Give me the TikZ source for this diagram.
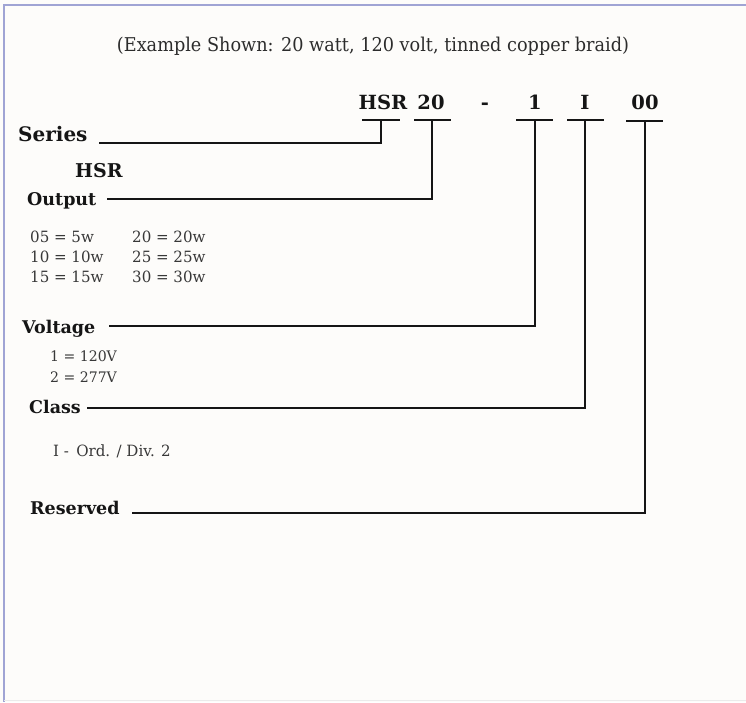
\documentclass[tikz,border=0pt]{standalone}
\usepackage{fontspec}
\setmainfont{DejaVu Serif}[FakeStretch=0.97]
\newfontfamily\titlefont{DejaVu Serif}[FakeStretch=0.93]
\newfontfamily\boldslab{DejaVu Serif}
\definecolor{bgc}{HTML}{FDFCFA}
\definecolor{framec}{HTML}{A0A4D4}
\definecolor{inkc}{HTML}{151515}
\tikzset{
  conn/.style={draw=inkc, line width=2pt, line cap=rect},
  barln/.style={draw=inkc, line width=2.4pt},
  codetxt/.style={inner sep=0pt, anchor=base, font=\boldslab\bfseries\fontsize{19.5}{22}\selectfont, text=inkc},
  lbl/.style={inner sep=0pt, anchor=base west, font=\boldslab\bfseries\fontsize{17.5}{20}\selectfont, text=inkc},
  item/.style={inner sep=0pt, anchor=base west, font=\fontsize{15.5}{18}\selectfont, text=inkc!85},
}
\begin{document}
\begin{tikzpicture}[x=1pt,y=-1pt]
\useasboundingbox (0,0) rectangle (746,702);
\fill[bgc] (0,0) rectangle (746,702);
\draw[framec, line width=2pt] (4,702) -- (4,5) -- (746,5);
\draw[black!8, line width=1pt] (4,700.5) -- (746,700.5);

\node[inner sep=0pt, anchor=base, font=\titlefont\fontsize{19}{22}\selectfont, text=inkc!90] (title) at (373,51) {(Example Shown: 20 watt, 120 volt, tinned copper braid)};

% code row
\node[codetxt] (cHSR) at (383,109) {HSR};
\node[codetxt] (c20) at (431,109) {20};
\node[codetxt] (cdash) at (485,109) {-};
\node[codetxt] (c1) at (535,109) {1};
\node[codetxt] (cI) at (585,109) {I};
\node[codetxt] (c00) at (645,109) {00};

% bars under code
\coordinate (bHSR) at (381,120);
\coordinate (b20) at (432,120);
\coordinate (b1) at (535,120);
\coordinate (bI) at (585,120);
\coordinate (b00) at (645,121);
\draw[barln] ([xshift=-19]bHSR) -- ([xshift=19]bHSR);
\draw[barln] ([xshift=-18]b20) -- ([xshift=19]b20);
\draw[barln] ([xshift=-19]b1) -- ([xshift=18]b1);
\draw[barln] ([xshift=-18]bI) -- ([xshift=19]bI);
\draw[barln] ([xshift=-19]b00) -- ([xshift=18]b00);

% labels
\node[lbl, font=\boldslab\bfseries\fontsize{20}{24}\selectfont] (series) at (18,141) {Series};
\node[lbl, font=\boldslab\bfseries\fontsize{19}{22}\selectfont] (hsr) at (75,177) {HSR};
\node[lbl] (output) at (27,205) {Output};
\node[lbl] (voltage) at (22,333) {Voltage};
\node[lbl] (class) at (29,413) {Class};
\node[lbl] (reserved) at (30,514) {Reserved};

% line start points
\coordinate (sSeries) at (100,143);
\coordinate (sOutput) at (108,199);
\coordinate (sVoltage) at (110,326);
\coordinate (sClass) at (88,408);
\coordinate (sReserved) at (133,513);

\draw[conn] (sSeries) -| (bHSR);
\draw[conn] (sOutput) -| (b20);
\draw[conn] (sVoltage) -| (b1);
\draw[conn] (sClass) -| (bI);
\draw[conn] (sReserved) -| (b00);

% output list
\node[item] (o05) at (30,242) {05 = 5w};
\node[item] (o10) at (30,262) {10 = 10w};
\node[item] (o15) at (30,282) {15 = 15w};
\node[item] (o20) at (132,242) {20 = 20w};
\node[item] (o25) at (132,262) {25 = 25w};
\node[item] (o30) at (132,282) {30 = 30w};

% voltage list
\node[item, font=\fontsize{14.5}{17}\selectfont] (v1) at (50,361) {1 = 120V};
\node[item, font=\fontsize{14.5}{17}\selectfont] (v2) at (50,382) {2 = 277V};

% class list
\node[item] (cl1) at (53,456) {I -\, Ord. / Div. 2};
\end{tikzpicture}
\end{document}
